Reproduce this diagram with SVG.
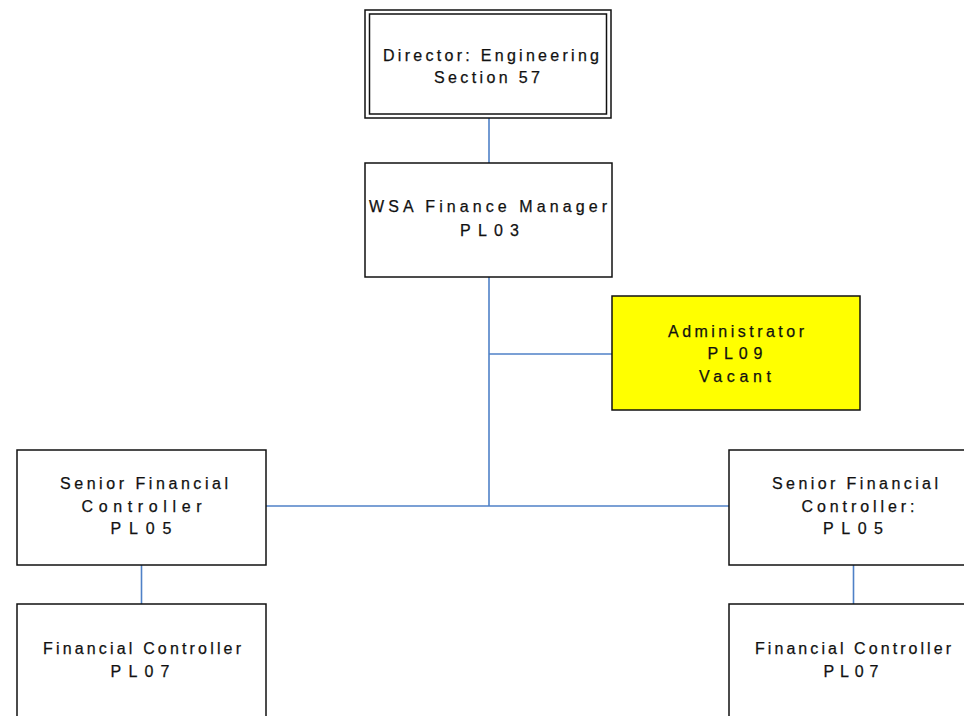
<svg xmlns="http://www.w3.org/2000/svg" width="964" height="716" viewBox="0 0 964 716">
  <style>
    .box { fill: #ffffff; stroke: #111111; stroke-width: 1.5; }
    .vacant { fill: #ffff00; stroke: #111111; stroke-width: 1.5; }
    .lbl { font-family: "Liberation Sans", Arial, sans-serif; font-size: 16px; fill: #111111; stroke: #111111; stroke-width: 0.25; text-anchor: middle; }
    .link { stroke: #4f81c7; stroke-width: 1.6; fill: none; }
  </style>
  <rect width="964" height="716" fill="#ffffff"/>

  <g id="connectors">
    <line class="link" x1="489" y1="118" x2="489" y2="163"/>
    <line class="link" x1="489" y1="277" x2="489" y2="506"/>
    <line class="link" x1="489" y1="354" x2="612" y2="354"/>
    <line class="link" x1="266" y1="506" x2="729" y2="506"/>
    <line class="link" x1="141.5" y1="565" x2="141.5" y2="604"/>
    <line class="link" x1="853.5" y1="565" x2="853.5" y2="604"/>
  </g>

  <g id="director">
    <rect class="box" x="365" y="10" width="246" height="108"/>
    <rect class="box" x="369.5" y="14" width="237" height="100" fill="none"/>
    <text class="lbl" x="491" y="61" textLength="216" lengthAdjust="spacing">Director: Engineering</text>
    <text class="lbl" x="487" y="83" textLength="106" lengthAdjust="spacing">Section 57</text>
  </g>

  <g id="finance-manager">
    <rect class="box" x="365" y="163" width="247" height="114"/>
    <text class="lbl" x="488" y="212" textLength="238" lengthAdjust="spacing">WSA Finance Manager</text>
    <text class="lbl" x="489.5" y="236" textLength="59" lengthAdjust="spacing">PL03</text>
  </g>

  <g id="administrator">
    <rect class="vacant" x="612" y="296" width="248" height="114"/>
    <text class="lbl" x="736" y="337" textLength="136" lengthAdjust="spacing">Administrator</text>
    <text class="lbl" x="735" y="359" textLength="55" lengthAdjust="spacing">PL09</text>
    <text class="lbl" x="735" y="382" textLength="72" lengthAdjust="spacing">Vacant</text>
  </g>

  <g id="senior-controller-left">
    <rect class="box" x="17" y="450" width="249" height="115"/>
    <text class="lbl" x="144" y="489" textLength="168" lengthAdjust="spacing">Senior Financial</text>
    <text class="lbl" x="141.5" y="512" textLength="120" lengthAdjust="spacing">Controller</text>
    <text class="lbl" x="141" y="534" textLength="61" lengthAdjust="spacing">PL05</text>
  </g>

  <g id="senior-controller-right">
    <rect class="box" x="729" y="450" width="249" height="115"/>
    <text class="lbl" x="855" y="489" textLength="166" lengthAdjust="spacing">Senior Financial</text>
    <text class="lbl" x="858" y="512" textLength="113" lengthAdjust="spacing">Controller:</text>
    <text class="lbl" x="853" y="534" textLength="60" lengthAdjust="spacing">PL05</text>
  </g>

  <g id="controller-left">
    <rect class="box" x="17" y="604" width="249" height="130"/>
    <text class="lbl" x="142" y="654" textLength="198" lengthAdjust="spacing">Financial Controller</text>
    <text class="lbl" x="140" y="677" textLength="59" lengthAdjust="spacing">PL07</text>
  </g>

  <g id="controller-right">
    <rect class="box" x="729" y="604" width="249" height="130"/>
    <text class="lbl" x="853" y="654" textLength="196" lengthAdjust="spacing">Financial Controller</text>
    <text class="lbl" x="851" y="677" textLength="55" lengthAdjust="spacing">PL07</text>
  </g>
</svg>
